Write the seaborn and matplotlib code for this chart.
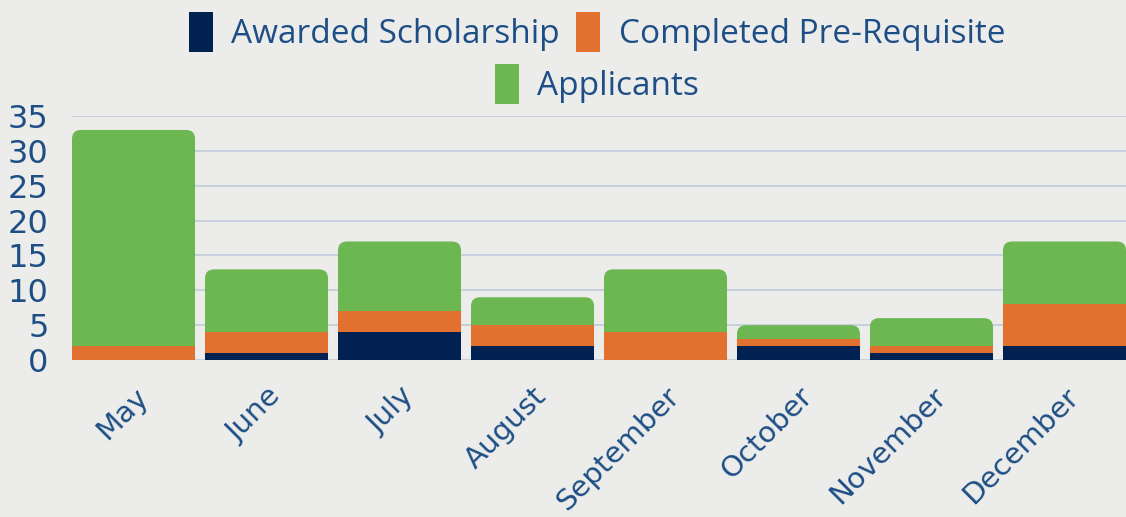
import numpy as np
import pandas as pd
import matplotlib.pyplot as plt
import seaborn as sns
from matplotlib.patches import Patch, FancyBboxPatch

# data
months = ['May', 'June', 'July', 'August', 'September', 'October', 'November', 'December']
applicants = [33, 13, 17, 9, 13, 5, 6, 17]
completed = [2, 4, 7, 5, 4, 3, 2, 8]
awarded = [0, 1, 4, 2, 0, 2, 1, 2]

df = pd.DataFrame({
    'Month': months,
    'Applicants': applicants,
    'Completed': completed,
    'Awarded': awarded,
})

bg = '#ececea'
navy = '#002152'
orange = '#e2702f'
green = '#6cb751'
txt = '#1d4e85'
grid = '#c4cedb'

sns.set_theme(style='white')
plt.rcParams['font.family'] = ['DejaVu Sans']

fig = plt.figure(figsize=(11.26, 5.17), dpi=100, facecolor=bg)
ax = fig.add_axes([72 / 1126, 157 / 517, 1054 / 1126, 244 / 517])
ax.set_facecolor(bg)

# overlapping bars: applicants behind, then completed, then awarded
bar_kw = dict(data=df, x='Month', width=0.925, saturation=1, ax=ax,
              zorder=2, linewidth=0, edgecolor='none')
sns.barplot(y='Applicants', color=green, **bar_kw)
n_green = len(ax.patches)
sns.barplot(y='Completed', color=orange, **bar_kw)
sns.barplot(y='Awarded', color=navy, **bar_kw)

ax.set_xlim(-0.4625, len(months) - 1 + 0.4625)
ax.set_ylim(0, 35)
ax.set_yticks(np.arange(0, 36, 5))

# round the top corners of the applicant bars
p0 = ax.transData.transform((0, 0))
p1 = ax.transData.transform((1, 1))
ppx, ppy = p1[0] - p0[0], p1[1] - p0[1]
r = 9 / ppx
for p in list(ax.patches[:n_green]):
    x, w, h = p.get_x(), p.get_width(), p.get_height()
    p.remove()
    ax.add_patch(FancyBboxPatch((x, 0), w, h,
                                boxstyle=f'round,pad=0,rounding_size={r}',
                                mutation_aspect=ppx / ppy,
                                fc=green, ec='none', lw=0, zorder=1.9))

ax.set_axisbelow(True)
ax.grid(axis='y', color=grid, lw=1.3)
ax.grid(axis='x', visible=False)
sns.despine(ax=ax, left=True, bottom=True)
ax.set_xlabel('')
ax.set_ylabel('')

ax.tick_params(axis='y', labelsize=23, colors=txt, length=0, pad=17)
ax.tick_params(axis='x', labelsize=21, colors=txt, length=0, pad=16)
for lbl in ax.get_xticklabels():
    lbl.set_rotation(45)
    lbl.set_ha('right')
    lbl.set_rotation_mode('anchor')

leg_kw = dict(loc='center', frameon=False, handlelength=0.72, handleheight=1.45,
              handletextpad=0.55, columnspacing=0.5, labelcolor=txt,
              prop={'family': ['Open Sans', 'DejaVu Sans'], 'size': 24})
fig.legend(handles=[Patch(fc=navy, lw=0), Patch(fc=orange, lw=0)],
           labels=['Awarded Scholarship', 'Completed Pre-Requisite'],
           bbox_to_anchor=(597 / 1126, 1 - 32 / 517), ncol=2, **leg_kw)
fig.legend(handles=[Patch(fc=green, lw=0)], labels=['Applicants'],
           bbox_to_anchor=(597 / 1126, 1 - 84 / 517), ncol=1, **leg_kw)

fig.savefig('out.png', dpi=100, facecolor=bg)
